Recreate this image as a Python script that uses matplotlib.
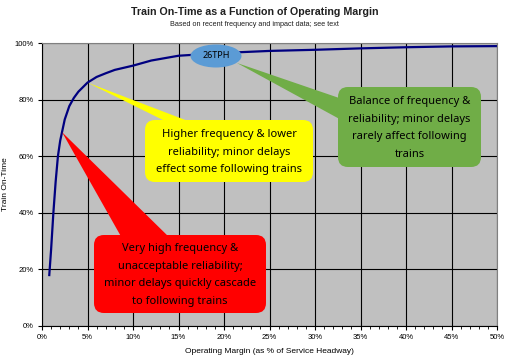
import numpy as np
import matplotlib.pyplot as plt
from matplotlib.patches import FancyBboxPatch, Polygon, Ellipse
from matplotlib.transforms import Affine2D

W, H = 509, 360

# values
margin = [0.8, 1.0, 1.25, 1.5, 1.75, 2, 2.5, 3, 3.5, 4, 5, 6, 7, 8,
          10, 12, 15, 20, 25, 30, 35, 40, 45, 50]
on_time = [18, 27, 40, 51, 60, 65.5, 73, 77.7, 80.6, 82.8, 86, 88, 89.3, 90.5,
           92, 93.8, 95.5, 96.5, 97.2, 97.6, 98.1, 98.5, 98.8, 98.9]

x_ticks = [0, 5, 10, 15, 20, 25, 30, 35, 40, 45, 50]
y_ticks = [0, 20, 40, 60, 80, 100]

txt_yellow = "Higher frequency & lower\nreliability; minor delays\neffect some following trains"
txt_red = "Very high frequency &\nunacceptable reliability;\nminor delays quickly cascade\nto following trains"
txt_green = "Balance of frequency &\nreliability; minor delays\nrarely affect following\ntrains"
txt_tph = "26TPH"

plt.rcParams['font.family'] = ['Liberation Sans', 'DejaVu Sans']

fig = plt.figure(figsize=(W / 100, H / 100), dpi=100)
ax = fig.add_axes([42 / W, 1 - 326 / H, 455 / W, 283 / H])
ax.set_facecolor('#c0c0c0')

ax.plot(margin, on_time, color='#000080', lw=1.6, zorder=2)

ax.set_xlim(0, 50)
ax.set_ylim(0, 100)
ax.set_xticks(x_ticks)
ax.set_xticklabels([f'{v}%' for v in x_ticks])
ax.set_yticks(y_ticks)
ax.set_yticklabels([f'{v}%' for v in y_ticks])
ax.set_xticks(np.arange(0, 51, 1), minor=True)
ax.tick_params(axis='both', which='major', direction='out', length=3, width=0.8,
               labelsize=5.5, colors='black', pad=3)
ax.tick_params(axis='x', which='minor', direction='out', length=2, width=0.6)
ax.grid(True, which='major', color='black', lw=0.8, zorder=1)
ax.set_axisbelow(True)
for s in ['top', 'right']:
    ax.spines[s].set_color('#808080')
for s in ['left', 'bottom']:
    ax.spines[s].set_color('black')

ax.set_xlabel('Operating Margin (as % of Service Headway)', fontsize=6, labelpad=5)
ax.set_ylabel('Train On-Time', fontsize=6, labelpad=4)

fig.text(0.5, 1 - 12 / H, 'Train On-Time as a Function of Operating Margin',
         ha='center', va='center', fontsize=7.7, fontweight='bold', color='#202020')
fig.text(0.5, 1 - 25 / H, 'Based on recent frequency and impact data; see text',
         ha='center', va='center', fontsize=5.2, color='#202020')

# pixel coords, top-left origin
px = Affine2D().scale(1, -1).translate(0, H)


def to_px(x):
    y = np.interp(x, margin, on_time)
    dx, dy = ax.transData.transform((x, y))
    return dx, H - dy


def callout(box, tip, base, color, text):
    x0, y0, x1, y1 = box
    ax.add_patch(Polygon([tip, base[0], base[1]], closed=True, fc=color, ec='none',
                         transform=px, clip_on=False, zorder=3))
    ax.add_patch(FancyBboxPatch((x0, y0), x1 - x0, y1 - y0,
                                boxstyle='round,pad=0,rounding_size=10',
                                fc=color, ec='none', transform=px, clip_on=False, zorder=3))
    ax.text((x0 + x1) / 2, (y0 + y1) / 2 + 1, text, transform=px, ha='center', va='center',
            fontsize=8, family=['Noto Sans', 'DejaVu Sans'], linespacing=1.8,
            color='black', zorder=4)


callout((145, 120, 313, 182), to_px(5), [(175, 126), (201, 126)], '#ffff00', txt_yellow)
callout((94, 235, 266, 313), to_px(2.2), [(123, 240), (172, 240)], '#ff0000', txt_red)
callout((338, 87, 481, 167), (237, 63), [(345, 100), (345, 122)], '#70ad47', txt_green)

ax.add_patch(Ellipse((216, 56), 51, 23, fc='#5b9bd5', ec='none', transform=px,
                     clip_on=False, zorder=5))
ax.text(216, 56, txt_tph, transform=px, ha='center', va='center', fontsize=6.5,
        family=['Noto Sans', 'DejaVu Sans'], zorder=6)

fig.savefig('out.png', dpi=100)
